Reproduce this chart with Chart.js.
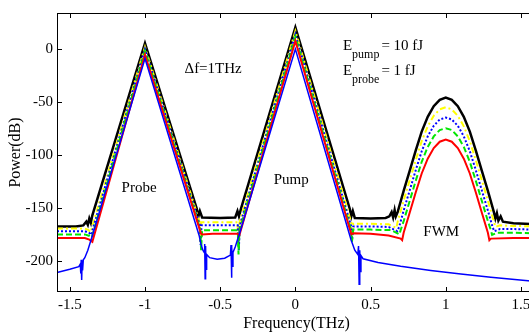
<!DOCTYPE html>
<html>
<head>
<meta charset="utf-8">
<script src="https://cdn.jsdelivr.net/npm/chart.js@4.4.1/dist/chart.umd.min.js"></script>
<style>
html, body { margin: 0; padding: 0; background: #fff; overflow: hidden; }
#wrap { width: 536px; height: 336px; }
</style>
</head>
<body>
<div id="wrap"><canvas id="spectrum" width="536" height="336"></canvas></div>
<script>
// axis ticks
const xTicks = [-1.5, -1, -0.5, 0, 0.5, 1, 1.5];
const yTicks = [-200, -150, -100, -50, 0];

// spectra, [frequency THz, power dB]
const black = [
  [-1.585, -167.5], [-1.46, -167.5], [-1.41, -166.5], [-1.39, -163], [-1.38, -166], [-1.37, -160], [-1.36, -164], [-1.35, -157],
  [-1.0, 5.5],
  [-0.655, -151], [-0.645, -158], [-0.635, -153], [-0.62, -159], [-0.5, -159.5], [-0.4, -159], [-0.385, -153], [-0.375, -158], [-0.362, -151],
  [0, 20.5],
  [0.362, -151], [0.372, -158], [0.382, -153], [0.395, -159.5], [0.5, -160], [0.6, -159.5], [0.625, -158], [0.64, -154], [0.65, -159], [0.66, -152], [0.668, -158], [0.68, -154],
  [0.72, -134], [0.76, -115], [0.8, -96], [0.84, -78], [0.88, -64], [0.92, -54], [0.96, -48], [1.0, -45.8],
  [1.04, -48], [1.08, -54], [1.12, -64], [1.16, -78], [1.2, -96], [1.24, -115], [1.28, -134], [1.32, -154],
  [1.33, -160], [1.34, -155], [1.35, -162], [1.365, -158], [1.38, -163], [1.45, -164.5], [1.6, -165.5]
];
const yellow = [
  [-1.585, -169.5], [-1.4, -169.5], [-1.375, -171], [-1.362, -173],
  [-1.0, 2],
  [-0.638, -163], [-0.632, -182], [-0.626, -163.5], [-0.55, -163.5], [-0.45, -163.5], [-0.385, -163.5], [-0.378, -186], [-0.372, -164],
  [0, 17],
  [0.372, -164], [0.378, -178], [0.385, -165], [0.5, -165], [0.62, -165.5], [0.672, -169],
  [0.68, -163], [0.72, -143], [0.76, -124], [0.8, -105], [0.84, -87], [0.88, -73], [0.92, -63], [0.96, -57], [1.0, -55],
  [1.04, -57], [1.08, -63], [1.12, -73], [1.16, -87], [1.2, -105], [1.24, -124], [1.28, -143], [1.32, -163],
  [1.33, -168], [1.36, -166.5], [1.45, -167], [1.6, -167.5]
];
const blueDot = [
  [-1.585, -172], [-1.4, -172], [-1.372, -173.5], [-1.358, -175.5],
  [-1.0, 0],
  [-0.636, -166], [-0.63, -185], [-0.624, -166.5], [-0.55, -166.5], [-0.45, -166.5], [-0.383, -166.5], [-0.376, -190], [-0.37, -167],
  [0, 14],
  [0.37, -167], [0.377, -180], [0.385, -167.5], [0.5, -167.5], [0.62, -168], [0.678, -172],
  [0.69, -168], [0.72, -152.5], [0.76, -133.5], [0.8, -114.5], [0.84, -96.5], [0.88, -82.5], [0.92, -72.5], [0.96, -66.5], [1.0, -64.7],
  [1.04, -66.5], [1.08, -72.5], [1.12, -82.5], [1.16, -96.5], [1.2, -114.5], [1.24, -133.5], [1.28, -152.5], [1.31, -167.5],
  [1.322, -172], [1.36, -170], [1.45, -170], [1.6, -170.5]
];
const green = [
  [-1.585, -175], [-1.4, -175], [-1.368, -176.5], [-1.354, -178],
  [-1.0, -2],
  [-0.632, -170.5], [-0.627, -190], [-0.62, -171], [-0.55, -171], [-0.45, -171], [-0.383, -171], [-0.378, -194], [-0.372, -171.5],
  [0, 11.5],
  [0.37, -171], [0.376, -182], [0.385, -170.5], [0.5, -170.5], [0.64, -171], [0.692, -175],
  [0.7, -171], [0.72, -162.5], [0.76, -143.5], [0.8, -124.5], [0.84, -106.5], [0.88, -92.5], [0.92, -82.5], [0.96, -76.5], [1.0, -74.8],
  [1.04, -76.5], [1.08, -82.5], [1.12, -92.5], [1.16, -106.5], [1.2, -124.5], [1.24, -143.5], [1.28, -162.5], [1.3, -171],
  [1.308, -175.5], [1.34, -173.5], [1.45, -173.5], [1.6, -174]
];
const red = [
  [-1.585, -178.5], [-1.4, -178.5], [-1.37, -180], [-1.35, -182],
  [-1.0, -5.5],
  [-0.628, -174], [-0.62, -175], [-0.55, -174.5], [-0.45, -174.5], [-0.385, -174.5], [-0.372, -175.5],
  [0, 7.7],
  [0.372, -175], [0.385, -174], [0.5, -174.5], [0.62, -176], [0.7, -179], [0.71, -180.5],
  [0.72, -173.5], [0.76, -154.5], [0.8, -135.5], [0.84, -117.5], [0.88, -103.5], [0.92, -93.5], [0.96, -87.5], [1.0, -85.5],
  [1.04, -87.5], [1.08, -93.5], [1.12, -103.5], [1.16, -117.5], [1.2, -135.5], [1.24, -154.5], [1.28, -173.5],
  [1.29, -180.5], [1.3, -179], [1.45, -178.5], [1.6, -178.5]
];
const blueLine = [
  [-1.585, -211], [-1.5, -208], [-1.44, -205.5], [-1.43, -203], [-1.427, -212], [-1.424, -199], [-1.421, -218], [-1.418, -200], [-1.415, -209], [-1.41, -199],
  [-1.4, -197], [-1.38, -190], [-1.345, -174],
  [-1.0, -9],
  [-0.64, -176], [-0.628, -184], [-0.615, -190], [-0.606, -192], [-0.603, -184], [-0.6, -217], [-0.597, -186], [-0.594, -208], [-0.59, -194],
  [-0.57, -197], [-0.52, -198.5], [-0.47, -197.5], [-0.432, -194.5], [-0.428, -185], [-0.425, -216], [-0.422, -187], [-0.419, -205], [-0.415, -192],
  [-0.4, -187], [-0.385, -180], [-0.375, -176],
  [0, 0],
  [0.37, -180], [0.395, -190], [0.415, -194], [0.42, -186], [0.424, -222], [0.428, -190], [0.432, -210], [0.436, -195], [0.45, -198], [0.55, -201.5],
  [0.7, -205], [0.9, -209], [1.1, -212.5], [1.3, -215.5], [1.6, -219.5]
];

// text placed in data units
const notes = [
  { text: '\u0394f=1THz', x: -0.547, y: -18.6 },
  { text: 'Probe', x: -1.039, y: -131 },
  { text: 'Pump', x: -0.028, y: -124 },
  { text: 'FWM', x: 0.97, y: -172.4 }
];
const energies = [
  { sub: 'pump', rest: '= 10 fJ', x: 0.316, y: -1 },
  { sub: 'probe', rest: '= 1 fJ', x: 0.316, y: -24.4 }
];

const serif = '"Liberation Serif", "Times New Roman", serif';

// draws the box, inward ticks and the labels inside the plot
const frameAndNotes = {
  id: 'frameAndNotes',
  afterDatasetsDraw(chart) {
    const { ctx, chartArea: a, scales: { x, y } } = chart;
    ctx.save();
    ctx.strokeStyle = '#000';
    ctx.lineWidth = 1;
    ctx.strokeRect(a.left + 0.5, a.top + 0.5, a.right - a.left - 1, a.bottom - a.top - 1);
    ctx.beginPath();
    xTicks.forEach(v => {
      const px = Math.round(x.getPixelForValue(v)) + 0.5;
      ctx.moveTo(px, a.bottom); ctx.lineTo(px, a.bottom - 5);
      ctx.moveTo(px, a.top); ctx.lineTo(px, a.top + 5);
    });
    yTicks.forEach(v => {
      const py = Math.round(y.getPixelForValue(v)) + 0.5;
      ctx.moveTo(a.left, py); ctx.lineTo(a.left + 5, py);
      ctx.moveTo(a.right, py); ctx.lineTo(a.right - 5, py);
    });
    ctx.stroke();

    ctx.fillStyle = '#000';
    ctx.font = '15px ' + serif;
    ctx.textAlign = 'center';
    ctx.textBaseline = 'middle';
    notes.forEach(n => ctx.fillText(n.text, x.getPixelForValue(n.x), y.getPixelForValue(n.y)));

    ctx.textAlign = 'left';
    ctx.textBaseline = 'alphabetic';
    energies.forEach(e => {
      let px = x.getPixelForValue(e.x);
      const py = y.getPixelForValue(e.y);
      ctx.font = '15px ' + serif;
      ctx.fillText('E', px, py);
      px += ctx.measureText('E').width;
      ctx.font = '12px ' + serif;
      ctx.fillText(e.sub, px, py + 8);
      px += ctx.measureText(e.sub).width + 2;
      ctx.font = '15px ' + serif;
      ctx.fillText(e.rest, px, py);
    });
    ctx.restore();
  }
};

function series(data, color, width, dash) {
  return {
    data: data,
    borderColor: color,
    borderWidth: width,
    borderDash: dash,
    showLine: true,
    pointRadius: 0,
    tension: 0,
    fill: false
  };
}

const ctx = document.getElementById('spectrum').getContext('2d');
new Chart(ctx, {
  type: 'scatter',
  data: {
    datasets: [
      series(blueLine, '#0000ff', 1.5, []),
      series(red, '#ff0000', 2, []),
      series(green, '#00e600', 2, [6, 3]),
      series(blueDot, '#0000ff', 2, [2, 2]),
      series(yellow, '#ffff00', 2, [6, 3, 2, 3]),
      series(black, '#000000', 2.5, [])
    ]
  },
  options: {
    responsive: false,
    animation: false,
    layout: { padding: { top: 5, left: 0, right: 0, bottom: 0 } },
    plugins: {
      legend: { display: false },
      tooltip: { enabled: false }
    },
    scales: {
      x: {
        type: 'linear',
        min: -1.585,
        max: 1.6,
        afterBuildTicks: s => { s.ticks = xTicks.map(v => ({ value: v })); },
        afterFit: s => { s.height = 44; },
        grid: { display: false, drawTicks: false },
        border: { display: false },
        ticks: { color: '#000', padding: 4, font: { family: serif, size: 15 }, callback: v => String(v) },
        title: { display: true, text: 'Frequency(THz)', color: '#000', font: { family: serif, size: 16 }, padding: { top: 0, bottom: 3 } }
      },
      y: {
        type: 'linear',
        min: -229.4,
        max: 34,
        afterBuildTicks: s => { s.ticks = yTicks.map(v => ({ value: v })); },
        afterFit: s => { s.width = 57; },
        grid: { display: false, drawTicks: false },
        border: { display: false },
        ticks: { color: '#000', padding: 4, font: { family: serif, size: 15 }, callback: v => String(v) },
        title: { display: true, text: 'Power(dB)', color: '#000', font: { family: serif, size: 16 }, padding: { top: 6, bottom: 0 } }
      }
    }
  },
  plugins: [frameAndNotes]
});
</script>
</body>
</html>
